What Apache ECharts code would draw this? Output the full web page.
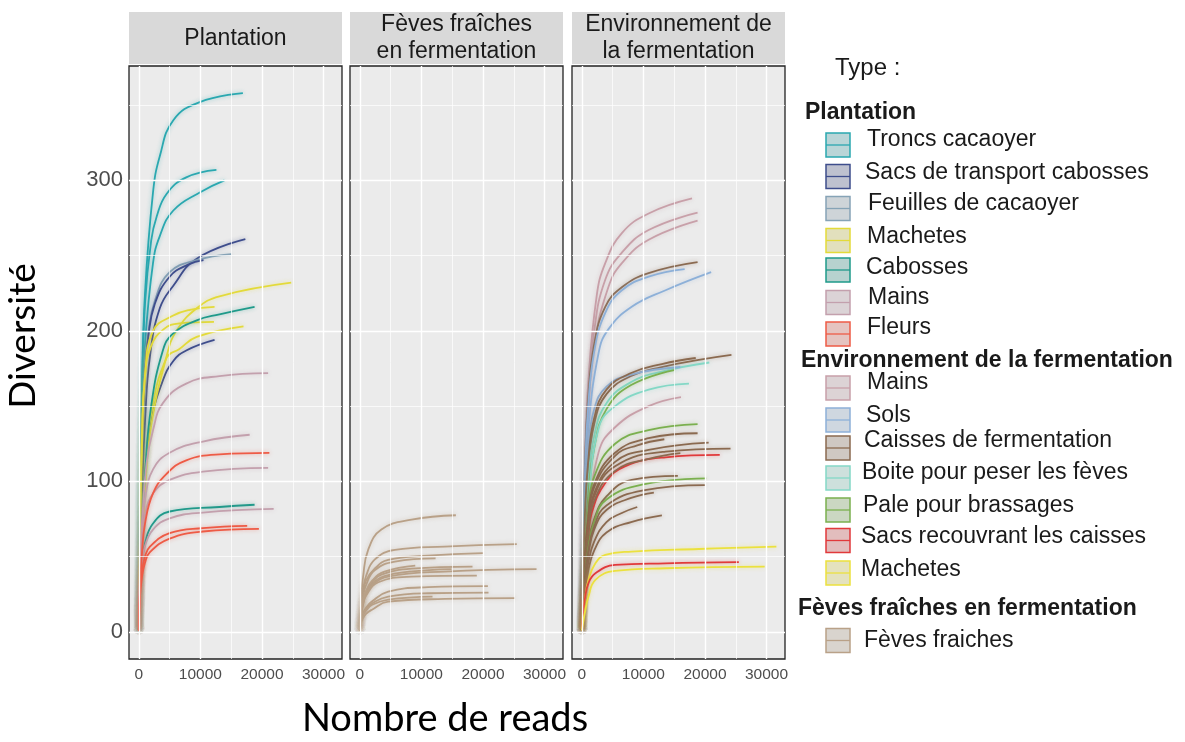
<!DOCTYPE html>
<html><head><meta charset="utf-8">
<script src="https://cdn.jsdelivr.net/npm/echarts@6/dist/echarts.min.js"></script>
<style>html,body{margin:0;padding:0;background:#fff}#c{width:1185px;height:742px}</style>
</head><body><div id="c"></div>
<script>
// ---------- data ----------
const panelTitles = [['Plantation'], ['Fèves fraîches', 'en fermentation'], ['Environnement de', 'la fermentation']];
const xTicks = [0, 10000, 20000, 30000];
const xMinor = [5000, 15000, 25000];
const yTicks = [0, 100, 200, 300];
const yMinor = [50, 150, 250, 350];
const xTitle = 'Nombre de reads';
const yTitle = 'Diversité';
const legendTitle = 'Type :';
const groupNames = ['Plantation', 'Environnement de la fermentation', 'Fèves fraîches en fermentation'];
const legendPlantation = ['Troncs cacaoyer', 'Sacs de transport cabosses', 'Feuilles de cacaoyer', 'Machetes', 'Cabosses', 'Mains', 'Fleurs'];
const legendEnv = ['Mains', 'Sols', 'Caisses de fermentation', 'Boite pour peser les fèves', 'Pale pour brassages', 'Sacs recouvrant les caisses', 'Machetes'];
const legendFeves = ['Fèves fraiches'];

const plantationTypes = [
  'Troncs cacaoyer', 'Troncs cacaoyer', 'Troncs cacaoyer',
  'Sacs de transport cabosses', 'Feuilles de cacaoyer', 'Sacs de transport cabosses', 'Sacs de transport cabosses',
  'Machetes', 'Machetes', 'Machetes', 'Machetes',
  'Cabosses', 'Cabosses',
  'Mains', 'Mains', 'Mains', 'Mains',
  'Fleurs', 'Fleurs', 'Fleurs'];
const plantationCurves = [
  [[0,1],[200,85],[500,160],[1000,225],[2300,292],[3400,316],[5600,340],[9900,352],[16900,358]],
  [[0,1],[200,95],[500,155],[1000,218],[2000,260],[2900,276],[4500,291],[7700,302],[12600,307]],
  [[0,1],[200,75],[500,138],[1000,191],[2300,245],[3400,263],[5600,280],[9900,292],[13900,300]],
  [[0,1],[200,45],[500,90],[1000,140],[1800,183],[3400,215],[5600,230],[9400,248],[17300,261]],
  [[0,1],[200,70],[500,130],[1000,175],[1500,198],[2600,220],[5000,239],[9400,247],[15000,251]],
  [[0,1],[200,65],[500,125],[1000,170],[1500,195],[2600,218],[5000,236],[8000,244],[10500,247]],
  [[0,1],[200,35],[500,70],[1000,105],[2000,140],[3900,167],[5600,180],[7700,187],[12300,194]],
  [[0,1],[200,27],[500,58],[1000,94],[2000,137],[4500,183],[6100,200],[9400,215],[13100,223],[24750,232]],
  [[0,1],[200,70],[500,130],[1000,170],[2300,200],[5500,210],[8300,214],[12300,216]],
  [[0,1],[200,60],[500,120],[1000,170],[2000,190],[4000,201],[6600,205],[12200,206]],
  [[0,1],[200,30],[500,65],[1000,105],[2000,145],[4500,182],[6600,188],[9400,196],[17000,203]],
  [[0,1],[200,30],[500,65],[1000,105],[2000,150],[3900,187],[5500,198],[9400,207],[13100,211],[18800,216]],
  [[0,1],[200,30],[500,45],[1000,59],[2300,72],[5000,80],[13100,83],[18800,84.5]],
  [[0,1],[200,35],[500,70],[1250,112],[2300,134],[3900,152],[7700,165],[13100,170],[21000,172]],
  [[0,1],[200,40],[500,68],[1000,88],[2300,108],[5000,119],[10400,126.5],[18000,131]],
  [[0,1],[200,38],[500,62],[1000,78],[2300,92],[5000,101],[10400,106.5],[21000,109]],
  [[0,1],[200,30],[500,46],[1000,57],[2300,68],[5000,75.5],[10400,79.3],[21900,81.7]],
  [[0,1],[200,30],[500,52],[1000,72],[2300,92],[4500,105],[7700,114],[13100,118],[21200,119]],
  [[0,1],[200,28],[500,40],[1000,50],[1800,56.7],[5000,65.6],[10400,69],[17600,70.5]],
  [[0,1],[200,24],[500,36],[1000,46],[1800,53],[5000,62],[10400,66.7],[19500,68.4]]
];

const fevesTypes = Array(13).fill('Fèves fraiches');
const fevesCurves = [
  [[0,1],[200,20],[540,37],[1350,54.5],[3500,68],[8400,74.6],[15600,77.5]],
  [[0,1],[200,16],[500,27],[1000,37],[2400,48],[5700,54.5],[13800,56.7],[25500,58.3]],
  [[0,1],[200,15],[500,25],[1000,34],[2400,42],[4600,47.8],[11100,50.7],[20000,52.4]],
  [[0,1],[200,14],[500,23],[1000,31],[2400,41],[5700,46.7],[12300,48.8]],
  [[0,1],[200,12],[500,20],[1000,27],[2000,33],[3500,38],[8400,42],[18300,43.4]],
  [[0,1],[200,12],[500,19],[1000,26],[2000,32],[4000,37],[8000,40],[14900,41.7]],
  [[0,1],[200,11],[500,18],[1000,25],[2000,31],[4600,36.7],[13800,40.1],[28700,41.7]],
  [[0,1],[200,11],[500,18],[1000,24],[3000,33],[8400,36.7],[19000,37.4]],
  [[0,1],[200,8],[500,12],[1000,16],[1900,20],[4600,26.8],[11100,29.7],[20800,30.4]],
  [[0,1],[200,7],[500,11],[1000,15],[2000,19],[4600,23.5],[11100,25.7],[20900,26.1]],
  [[0,1],[200,7],[500,11],[1000,14],[2000,18],[4600,21.5],[11800,23.5]],
  [[0,1],[200,6],[500,9],[1000,12],[1900,14.6],[4600,20.1],[13800,21.9],[25200,22.4]],
  [[0,1],[200,12],[500,20],[1000,27],[2000,34],[4000,40],[9000,44]]
];

const envTypes = [
  'Mains', 'Mains', 'Mains', 'Caisses de fermentation', 'Sols', 'Sols',
  'Caisses de fermentation', 'Boite pour peser les fèves', 'Sols', 'Pale pour brassages', 'Caisses de fermentation',
  'Boite pour peser les fèves', 'Mains', 'Pale pour brassages', 'Caisses de fermentation', 'Caisses de fermentation',
  'Caisses de fermentation', 'Caisses de fermentation', 'Sacs recouvrant les caisses', 'Caisses de fermentation',
  'Caisses de fermentation', 'Pale pour brassages', 'Caisses de fermentation', 'Caisses de fermentation',
  'Caisses de fermentation', 'Caisses de fermentation', 'Machetes', 'Sacs recouvrant les caisses', 'Machetes'];
const envCurves = [
  [[0,1],[200,57],[500,112],[1000,163],[2400,223],[3800,245],[6500,265],[10850,278],[17900,288]],
  [[0,1],[200,53],[500,104],[1000,153],[2000,200],[3800,234],[6500,252],[10850,267],[18800,278.6]],
  [[0,1],[200,48],[500,95],[1000,142],[2000,190],[4300,229],[6500,245],[10850,260.5],[18800,273.3]],
  [[0,1],[200,60],[500,111],[1000,154],[2000,191],[3800,216],[6500,229],[10850,238.4],[18800,245.7]],
  [[0,1],[200,55],[500,105],[1000,148],[2000,186],[3800,212],[6500,227],[10850,236],[16700,241]],
  [[0,1],[200,48],[500,92],[1000,133],[2700,185],[4300,201],[8100,216],[13600,227],[21000,239]],
  [[0,1],[200,35],[500,70],[1000,105],[2000,138],[4000,158],[8000,170],[13000,176],[19000,180.7],[24300,184]],
  [[0,1],[200,30],[500,62],[1000,97],[2000,130],[4000,152],[8000,166],[13000,173],[20700,179]],
  [[0,1],[200,45],[500,85],[1000,120],[2000,148],[4000,163],[8000,171],[16000,176]],
  [[0,1],[200,28],[500,55],[1000,88],[2000,122],[4000,148],[8000,164],[15000,174]],
  [[0,1],[200,40],[500,78],[1000,112],[2000,142],[4000,161],[8000,172],[13000,178],[18500,182]],
  [[0,1],[200,22],[500,48],[1000,80],[2700,135],[5400,150],[10850,161],[17400,165]],
  [[0,1],[200,18],[500,40],[1000,68],[2700,119],[5400,136],[10850,150],[16100,156]],
  [[0,1],[200,25],[500,50],[1000,78],[2000,103],[5400,125],[10850,134],[18800,138]],
  [[0,1],[200,24],[500,48],[1000,74],[2000,98],[5400,119],[10850,128.7],[18800,132]],
  [[0,1],[200,24],[500,47],[1000,72],[2000,96],[5400,117],[9000,124],[13400,128]],
  [[0,1],[200,22],[500,44],[1000,68],[2000,92],[5400,113],[10850,121],[20600,125.8]],
  [[0,1],[200,22],[500,43],[1000,66],[2000,90],[5400,110],[13600,119.8],[24150,121.8]],
  [[0,1],[200,20],[500,42],[1000,62],[1600,79],[3800,99],[7000,110],[13600,116],[22400,117.6]],
  [[0,1],[200,22],[500,42],[1000,64],[2000,87],[5400,107],[10850,115],[16000,118.8]],
  [[0,1],[200,20],[500,38],[1000,56],[2000,75],[4000,90],[8100,101],[15600,103.7]],
  [[0,1],[200,20],[500,37],[1000,54],[2000,73],[4000,88],[10000,98],[20200,102]],
  [[0,1],[200,19],[500,36],[1000,52],[2000,70],[4000,84],[10000,94],[20000,97.5]],
  [[0,1],[200,19],[500,35],[1000,51],[2000,68],[4000,81],[8000,89],[11700,92.6]],
  [[0,1],[200,17],[500,31],[1000,45],[2000,60],[4000,73],[6500,79],[9000,83]],
  [[0,1],[200,15],[500,28],[1000,40],[2000,54],[4000,66],[8000,73],[13000,77.5]],
  [[0,1],[200,12],[500,22],[1080,34.6],[2200,45.6],[3800,51.2],[8100,53.4],[19000,55.1],[31600,56.7]],
  [[0,1],[200,12],[500,22],[1080,32.4],[2200,39],[5400,44.5],[13600,45.6],[25500,46.3]],
  [[0,1],[200,6],[500,13],[1080,23.5],[2200,34.6],[5400,40.5],[13600,42.3],[29700,43.4]]
];

// ---------- styles ----------
const colPlantation = {
  'Troncs cacaoyer': '#2aa8b0', 'Sacs de transport cabosses': '#3e4d8c', 'Feuilles de cacaoyer': '#86a3b6',
  'Machetes': '#e3da3a', 'Cabosses': '#1f9a8a', 'Mains': '#c3a0ad', 'Fleurs': '#ee5b46'
};
const colEnv = {
  'Mains': '#c8a0a9', 'Sols': '#8db0d8', 'Caisses de fermentation': '#8b6a50', 'Boite pour peser les fèves': '#84d8c6',
  'Pale pour brassages': '#7bb04f', 'Sacs recouvrant les caisses': '#e1393b', 'Machetes': '#ebe13e'
};
const colFeves = { 'Fèves fraiches': '#b9a188' };

function hexToRgb(h) { h = h.replace('#', ''); return [0, 2, 4].map(i => parseInt(h.substr(i, 2), 16)); }
function rgba(h, a) { const c = hexToRgb(h); return `rgba(${c[0]},${c[1]},${c[2]},${a})`; }
function mix(h, base, t) {
  const a = hexToRgb(h), b = hexToRgb(base);
  return '#' + a.map((v, i) => Math.round(v * t + b[i] * (1 - t)).toString(16).padStart(2, '0')).join('');
}

// layout
const panelLeft = [129, 350, 572];
const panelW = 213, panelTop = 66, panelH = 593;
const xMin = -1600, xMax = 33000, yMin = -18, yMax = 376;

const grids = panelLeft.map(l => ({
  left: l, top: panelTop, width: panelW, height: panelH, show: true,
  backgroundColor: '#ebebeb', borderColor: '#222', borderWidth: 1.3, containLabel: false
}));
const xAxes = panelLeft.map((l, i) => ({
  type: 'value', gridIndex: i, min: xMin, max: xMax, splitLine: { show: false },
  axisLine: { show: false },
  axisTick: { show: true, customValues: xTicks, length: 4, lineStyle: { color: '#333', width: 1 } },
  axisLabel: { customValues: xTicks, formatter: v => String(v), color: '#4d4d4d', fontSize: 15.5, margin: 8, fontFamily: 'Liberation Sans, Arial, sans-serif' }
}));
const yAxes = panelLeft.map((l, i) => ({
  type: 'value', gridIndex: i, min: yMin, max: yMax, splitLine: { show: false },
  axisLine: { show: false },
  axisTick: { show: i === 0, customValues: yTicks, length: 4, lineStyle: { color: '#333', width: 1 } },
  axisLabel: { show: i === 0, customValues: yTicks, formatter: v => String(v), color: '#4d4d4d', fontSize: 22, margin: 6, fontFamily: 'Liberation Sans, Arial, sans-serif' }
}));

function gridSeries(gi) {
  const major = { color: '#ffffff', width: 1.4, type: 'solid' };
  const minor = { color: '#ffffff', width: 0.7, type: 'solid' };
  const data = [];
  yMinor.forEach(v => data.push({ yAxis: v, lineStyle: minor }));
  xMinor.forEach(v => data.push({ xAxis: v, lineStyle: minor }));
  yTicks.forEach(v => data.push({ yAxis: v, lineStyle: major }));
  xTicks.forEach(v => data.push({ xAxis: v, lineStyle: major }));
  return {
    type: 'line', xAxisIndex: gi, yAxisIndex: gi, data: [], z: 1, silent: true,
    markLine: { silent: true, symbol: ['none', 'none'], label: { show: false }, data, animation: false,
      emphasis: { disabled: true } }
  };
}
function curveSeries(curves, types, cmap, gi) {
  return curves.map((pts, i) => {
    const c = cmap[types[i]];
    return {
      type: 'line', name: types[i], xAxisIndex: gi, yAxisIndex: gi, data: pts,
      smooth: 0.45, showSymbol: false, symbol: 'none', z: 3, silent: true, animation: false,
      lineStyle: { color: c, width: 1.8, shadowBlur: 4, shadowColor: rgba(c, 0.45) },
      emphasis: { disabled: true }
    };
  });
}

const series = [
  gridSeries(0), gridSeries(1), gridSeries(2),
  ...curveSeries(plantationCurves, plantationTypes, colPlantation, 0),
  ...curveSeries(fevesCurves, fevesTypes, colFeves, 1),
  ...curveSeries(envCurves, envTypes, colEnv, 2)
];

// graphics: strips, titles, legend
const FONT = 'Liberation Sans, Arial, sans-serif';
const graphic = [];
panelTitles.forEach((lines, i) => {
  graphic.push({ type: 'rect', shape: { x: panelLeft[i], y: 12, width: panelW, height: 52 }, style: { fill: '#d9d9d9' }, silent: true });
  const cy = lines.length === 1 ? [38.5] : [24.5, 52];
  lines.forEach((t, k) => graphic.push({
    type: 'text', x: panelLeft[i] + panelW / 2, y: cy[k],
    style: { text: t, font: `23px ${FONT}`, fill: '#1a1a1a', align: 'center', verticalAlign: 'middle' }, silent: true
  }));
});
graphic.push({ type: 'text', x: 445, y: 719, style: { text: xTitle, font: `38px Lato, "Open Sans", sans-serif`, fill: '#000', align: 'center', verticalAlign: 'middle' }, silent: true });
graphic.push({ type: 'text', x: 23, y: 336, rotation: Math.PI / 2, style: { text: yTitle, font: `37px Lato, "Open Sans", sans-serif`, fill: '#000', align: 'center', verticalAlign: 'middle' }, silent: true });

graphic.push({ type: 'text', x: 835, y: 68, style: { text: legendTitle, font: `24px ${FONT}`, fill: '#1a1a1a', align: 'left', verticalAlign: 'middle' }, silent: true });
function legendBlock(header, headerY, items, cmap, textYs, boxYs, textX, headerX) {
  graphic.push({ type: 'text', x: headerX, y: headerY, style: { text: header, font: `bold 23px ${FONT}`, fill: '#1a1a1a', align: 'left', verticalAlign: 'middle' }, silent: true });
  items.forEach((name, i) => {
    const c = cmap[name];
    const by = boxYs[i];
    graphic.push({ type: 'rect', shape: { x: 826, y: by - 12, width: 24, height: 24 }, style: { fill: mix(c, '#e2e2e2', 0.22), stroke: c, lineWidth: 1.5 }, silent: true });
    graphic.push({ type: 'line', shape: { x1: 826, y1: by, x2: 850, y2: by }, style: { stroke: c, lineWidth: 1.3 }, silent: true });
    graphic.push({ type: 'text', x: textX[i], y: textYs[i], style: { text: name, font: `23px ${FONT}`, fill: '#1a1a1a', align: 'left', verticalAlign: 'middle' }, silent: true });
  });
}
legendBlock(groupNames[0], 113, legendPlantation, colPlantation,
  [140, 173, 204, 237, 268, 298, 328], [145, 176.5, 208.5, 240.5, 270, 302.5, 334],
  [867, 865, 868, 867, 866, 868, 867], 805);
legendBlock(groupNames[1], 361, legendEnv, colEnv,
  [383, 416, 441, 473, 506, 537, 570], [388, 420, 448, 478, 510, 540.5, 573],
  [867, 866, 864, 862, 863, 861, 861], 801);
legendBlock(groupNames[2], 609, legendFeves, colFeves, [641], [640.5], [864], 798);

const chart = echarts.init(document.getElementById('c'), null, { renderer: 'canvas' });
chart.setOption({
  backgroundColor: '#ffffff',
  animation: false,
  grid: grids, xAxis: xAxes, yAxis: yAxes, series, graphic
});
</script></body></html>
